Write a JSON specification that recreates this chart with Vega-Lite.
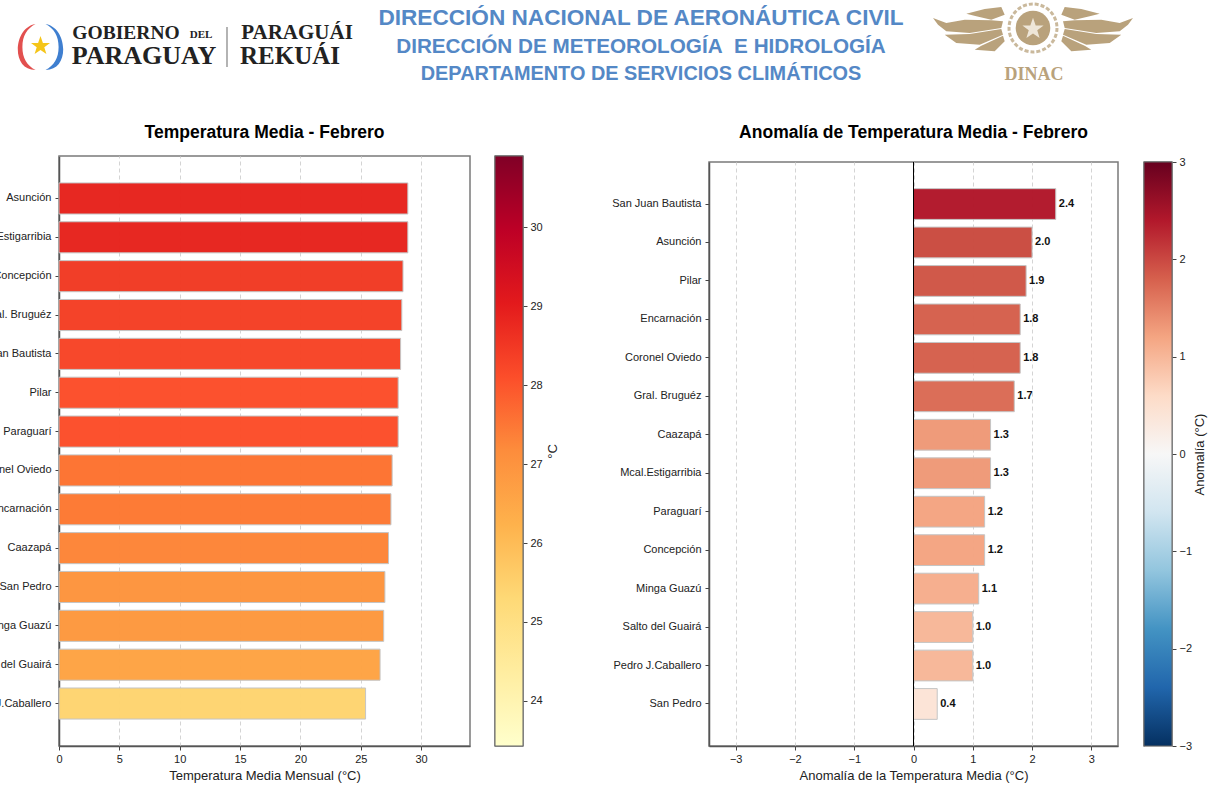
{
"$schema":"https://vega.github.io/schema/vega-lite/v6.json",
"padding":{"left":-40,"top":-2,"right":0,"bottom":0},
"background":"white",
"bounds":"flush",
"spacing":0,
"config":{"font":"Liberation Sans","view":{"stroke":"#7a7a7a","strokeWidth":1.5},
 "axis":{"labelFontSize":11,"labelColor":"#222","titleFontSize":13,"titleFontWeight":"normal","titleColor":"#222","tickColor":"#444","tickSize":4,"domainColor":"#555","domainWidth":1.5,"labelFlush":false},
 "title":{"fontSize":17.5,"fontWeight":"bold","color":"#000","anchor":"middle"}},
"datasets":{
 "media":[
  {"estacion":"Asunción","valor":28.9},{"estacion":"Mcal.Estigarribia","valor":28.9},{"estacion":"Concepción","valor":28.5},{"estacion":"Gral. Bruguéz","valor":28.4},{"estacion":"San Juan Bautista","valor":28.3},{"estacion":"Pilar","valor":28.1},{"estacion":"Paraguarí","valor":28.1},{"estacion":"Coronel Oviedo","valor":27.6},{"estacion":"Encarnación","valor":27.5},{"estacion":"Caazapá","valor":27.3},{"estacion":"San Pedro","valor":27.0},{"estacion":"Minga Guazú","valor":26.9},{"estacion":"Salto del Guairá","valor":26.6},{"estacion":"Pedro J.Caballero","valor":25.4}],
 "anomalia":[
  {"estacion":"San Juan Bautista","valor":2.4},{"estacion":"Asunción","valor":2.0},{"estacion":"Pilar","valor":1.9},{"estacion":"Encarnación","valor":1.8},{"estacion":"Coronel Oviedo","valor":1.8},{"estacion":"Gral. Bruguéz","valor":1.7},{"estacion":"Caazapá","valor":1.3},{"estacion":"Mcal.Estigarribia","valor":1.3},{"estacion":"Paraguarí","valor":1.2},{"estacion":"Concepción","valor":1.2},{"estacion":"Minga Guazú","valor":1.1},{"estacion":"Salto del Guairá","valor":1.0},{"estacion":"Pedro J.Caballero","valor":1.0},{"estacion":"San Pedro","valor":0.4}]
},
"resolve":{"scale":{"fill":"independent"}},
"vconcat":[
 {"width":1168,"height":156,"view":{"stroke":null},
  "layer":[
   {"data":{"values":[{"emblema":"laurel rojo"}]},"mark":{"type":"point","filled":true,"opacity":1,"color":"#e2504f","size":2116,"shape":"M0.37,-1 C-0.2,-0.9 -0.4,-0.3 -0.4,0.1 C-0.4,0.6 -0.15,1 0.37,1 C0,0.8 -0.2,0.5 -0.2,0 C-0.2,-0.5 0,-0.8 0.37,-1 Z"},
    "encoding":{"x":{"datum":27,"axis":null,"scale":{"domain":[59,1227],"range":[0,1168]}},"y":{"datum":47,"axis":null,"scale":{"domain":[0,156],"range":[0,156]}}}},
   {"data":{"values":[{"emblema":"laurel azul"}]},"mark":{"type":"point","filled":true,"opacity":1,"color":"#3f7fd0","size":2116,"shape":"M-0.37,-1 C0.2,-0.9 0.4,-0.3 0.4,0.1 C0.4,0.6 0.15,1 -0.37,1 C0,0.8 0.2,0.5 0.2,0 C0.2,-0.5 0,-0.8 -0.37,-1 Z"},
    "encoding":{"x":{"datum":54,"axis":null,"scale":{"domain":[59,1227],"range":[0,1168]}},"y":{"datum":47,"axis":null,"scale":{"domain":[0,156],"range":[0,156]}}}},
   {"data":{"values":[{"emblema":"estrella"}]},"mark":{"type":"point","filled":true,"opacity":1,"color":"#f5c518","size":400,"shape":"M0,-1 L0.24,-0.31 L0.95,-0.31 L0.38,0.12 L0.59,0.81 L0,0.4 L-0.59,0.81 L-0.38,0.12 L-0.95,-0.31 L-0.24,-0.31 Z"},
    "encoding":{"x":{"datum":40.5,"axis":null,"scale":{"domain":[59,1227],"range":[0,1168]}},"y":{"datum":46,"axis":null,"scale":{"domain":[0,156],"range":[0,156]}}}},
   {"data":{"values":[{"emblema":"divisor"}]},"mark":{"type":"point","filled":true,"opacity":1,"color":"#444444","size":1600,"shape":"M-0.02,-1 L0.02,-1 L0.02,1 L-0.02,1 Z"},
    "encoding":{"x":{"datum":227,"axis":null,"scale":{"domain":[59,1227],"range":[0,1168]}},"y":{"datum":47,"axis":null,"scale":{"domain":[0,156],"range":[0,156]}}}},
   {"data":{"values":[{"emblema":"alas"}]},"mark":{"type":"point","filled":true,"opacity":1,"color":"#b9a27c","size":40000,"shape":"M-0.667,-0.143 L-0.483,-0.19 L-0.317,-0.21 L-0.283,-0.133 L-0.417,-0.083 L-0.567,-0.117 Z M-1,-0.1 L-0.867,-0.05 L-0.683,-0.083 L-0.417,-0.077 L-0.3,-0.067 L-0.317,0 L-0.633,0.05 L-0.867,0.033 L-0.95,-0.033 Z M-0.883,0.067 L-0.633,0.06 L-0.317,0.01 L-0.3,0.067 L-0.533,0.167 L-0.767,0.15 Z M-0.583,0.217 L-0.517,0.177 L-0.3,0.077 L-0.283,0.133 L-0.383,0.233 Z M0.667,-0.143 L0.483,-0.19 L0.317,-0.21 L0.283,-0.133 L0.417,-0.083 L0.567,-0.117 Z M1,-0.1 L0.867,-0.05 L0.683,-0.083 L0.417,-0.077 L0.3,-0.067 L0.317,0 L0.633,0.05 L0.867,0.033 L0.95,-0.033 Z M0.883,0.067 L0.633,0.06 L0.317,0.01 L0.3,0.067 L0.533,0.167 L0.767,0.15 Z M0.583,0.217 L0.517,0.177 L0.3,0.077 L0.283,0.133 L0.383,0.233 Z"},
    "encoding":{"x":{"datum":1033,"axis":null,"scale":{"domain":[59,1227],"range":[0,1168]}},"y":{"datum":28,"axis":null,"scale":{"domain":[0,156],"range":[0,156]}}}},
   {"data":{"values":[{"emblema":"corona"}]},"mark":{"type":"point","filled":false,"opacity":0.75,"color":"#b9a27c","strokeWidth":3,"strokeDash":[4,2],"size":2300,"shape":"circle"},
    "encoding":{"x":{"datum":1033,"axis":null,"scale":{"domain":[59,1227],"range":[0,1168]}},"y":{"datum":28,"axis":null,"scale":{"domain":[0,156],"range":[0,156]}}}},
   {"data":{"values":[{"emblema":"sello"}]},"mark":{"type":"point","filled":true,"opacity":1,"color":"#b9a27c","size":1200,"shape":"circle"},
    "encoding":{"x":{"datum":1033,"axis":null,"scale":{"domain":[59,1227],"range":[0,1168]}},"y":{"datum":28,"axis":null,"scale":{"domain":[0,156],"range":[0,156]}}}},
   {"data":{"values":[{"emblema":"estrella sello"}]},"mark":{"type":"point","filled":true,"opacity":1,"color":"#eee6d8","size":500,"shape":"M0,-1 L0.24,-0.31 L0.95,-0.31 L0.38,0.12 L0.59,0.81 L0,0.4 L-0.59,0.81 L-0.38,0.12 L-0.95,-0.31 L-0.24,-0.31 Z"},
    "encoding":{"x":{"datum":1033,"axis":null,"scale":{"domain":[59,1227],"range":[0,1168]}},"y":{"datum":29,"axis":null,"scale":{"domain":[0,156],"range":[0,156]}}}},
   {"data":{"values":[{"texto":"GOBIERNO"}]},"mark":{"type":"text","font":"Liberation Serif","fontWeight":"bold","fontSize":19.5,"color":"#222222"},
    "encoding":{"text":{"field":"texto"},"x":{"datum":126,"axis":null,"scale":{"domain":[59,1227],"range":[0,1168]}},"y":{"datum":33,"axis":null,"scale":{"domain":[0,156],"range":[0,156]}}}},
   {"data":{"values":[{"texto":"DEL"}]},"mark":{"type":"text","font":"Liberation Serif","fontWeight":"bold","fontSize":11,"color":"#222222"},
    "encoding":{"text":{"field":"texto"},"x":{"datum":201,"axis":null,"scale":{"domain":[59,1227],"range":[0,1168]}},"y":{"datum":35,"axis":null,"scale":{"domain":[0,156],"range":[0,156]}}}},
   {"data":{"values":[{"texto":"PARAGUAY"}]},"mark":{"type":"text","font":"Liberation Serif","fontWeight":"bold","fontSize":26,"color":"#222222"},
    "encoding":{"text":{"field":"texto"},"x":{"datum":144,"axis":null,"scale":{"domain":[59,1227],"range":[0,1168]}},"y":{"datum":56,"axis":null,"scale":{"domain":[0,156],"range":[0,156]}}}},
   {"data":{"values":[{"texto":"PARAGUÁI"}]},"mark":{"type":"text","font":"Liberation Serif","fontWeight":"bold","fontSize":21,"color":"#222222"},
    "encoding":{"text":{"field":"texto"},"x":{"datum":297,"axis":null,"scale":{"domain":[59,1227],"range":[0,1168]}},"y":{"datum":33,"axis":null,"scale":{"domain":[0,156],"range":[0,156]}}}},
   {"data":{"values":[{"texto":"REKUÁI"}]},"mark":{"type":"text","font":"Liberation Serif","fontWeight":"bold","fontSize":25,"color":"#222222"},
    "encoding":{"text":{"field":"texto"},"x":{"datum":290,"axis":null,"scale":{"domain":[59,1227],"range":[0,1168]}},"y":{"datum":56,"axis":null,"scale":{"domain":[0,156],"range":[0,156]}}}},
   {"data":{"values":[{"texto":"DINAC"}]},"mark":{"type":"text","font":"Liberation Serif","fontWeight":"bold","fontSize":18,"color":"#b9a27c"},
    "encoding":{"text":{"field":"texto"},"x":{"datum":1034,"axis":null,"scale":{"domain":[59,1227],"range":[0,1168]}},"y":{"datum":75,"axis":null,"scale":{"domain":[0,156],"range":[0,156]}}}},
   {"data":{"values":[{"texto":"DIRECCIÓN NACIONAL DE AERONÁUTICA CIVIL"}]},"mark":{"type":"text","fontWeight":"bold","fontSize":22.6,"color":"#5488c6"},
    "encoding":{"text":{"field":"texto"},"x":{"datum":641,"axis":null,"scale":{"domain":[59,1227],"range":[0,1168]}},"y":{"datum":18,"axis":null,"scale":{"domain":[0,156],"range":[0,156]}}}},
   {"data":{"values":[{"texto":"DIRECCIÓN DE METEOROLOGÍA\u00a0 E HIDROLOGÍA"}]},"mark":{"type":"text","fontWeight":"bold","fontSize":20.7,"color":"#5488c6"},
    "encoding":{"text":{"field":"texto"},"x":{"datum":641,"axis":null,"scale":{"domain":[59,1227],"range":[0,1168]}},"y":{"datum":47,"axis":null,"scale":{"domain":[0,156],"range":[0,156]}}}},
   {"data":{"values":[{"texto":"DEPARTAMENTO DE SERVICIOS CLIMÁTICOS"}]},"mark":{"type":"text","fontWeight":"bold","fontSize":19.9,"color":"#5488c6"},
    "encoding":{"text":{"field":"texto"},"x":{"datum":641,"axis":null,"scale":{"domain":[59,1227],"range":[0,1168]}},"y":{"datum":74,"axis":null,"scale":{"domain":[0,156],"range":[0,156]}}}}
  ]
 },
 {"bounds":"flush","spacing":650,"resolve":{"scale":{"fill":"independent"}},"hconcat":[
  {"bounds":"flush","spacing":25,"hconcat":[
   {"width":411,"height":590,
    "data":{"name":"media"},
    "title":{"text":"Temperatura Media - Febrero","offset":15},
    "mark":{"type":"bar","stroke":"#c4c4c4","strokeWidth":1,"opacity":0.98},
    "encoding":{
     "y":{"field":"estacion","type":"nominal","sort":{"field":"valor","order":"descending"},"title":null,
      "scale":{"paddingInner":0.2,"paddingOuter":0.693},"axis":{"domain":true,"labelPadding":4,"labelLimit":200}},
     "x":{"field":"valor","type":"quantitative","title":"Temperatura Media Mensual (°C)",
      "scale":{"domain":[0,34.05],"nice":false,"zero":false},
      "axis":{"values":[0,5,10,15,20,25,30],"grid":true,"gridDash":[4,3],"gridColor":"#d4d4d4","gridWidth":1,"labelPadding":3,"titlePadding":5}},
     "fill":{"field":"valor","type":"quantitative","legend":null,"scale":{"domain":[23.43,30.9],"range":["#ffffcc","#ffeda0","#fed976","#feb24c","#fd8d3c","#fc4e2a","#e31a1c","#bd0026","#800026"]}}
    }},
   {"width":28,"height":590,
    "data":{"values":[{"minimo":23.43,"maximo":30.9}]},
    "mark":{"type":"rect","stroke":"#666666","strokeWidth":1,"fill":{"gradient":"linear","x1":0,"y1":1,"x2":0,"y2":0,"stops":[
      {"offset":0,"color":"#ffffcc"},{"offset":0.125,"color":"#ffeda0"},{"offset":0.25,"color":"#fed976"},{"offset":0.375,"color":"#feb24c"},{"offset":0.5,"color":"#fd8d3c"},{"offset":0.625,"color":"#fc4e2a"},{"offset":0.75,"color":"#e31a1c"},{"offset":0.875,"color":"#bd0026"},{"offset":1,"color":"#800026"}]}},
    "encoding":{
     "y":{"field":"minimo","type":"quantitative","title":"°C","scale":{"domain":[23.43,30.9],"nice":false,"zero":false},
      "axis":{"orient":"right","values":[24,25,26,27,28,29,30],"domain":false,"titleAngle":270,"titlePadding":17,"labelPadding":3}},
     "y2":{"field":"maximo"}
    }}
  ]},
  {"bounds":"flush","spacing":0,"vconcat":[
   {"width":1,"height":6,"view":{"stroke":null},"data":{"values":[{}]},"mark":{"type":"rect","opacity":0},"encoding":{}},
   {"bounds":"flush","spacing":26,"hconcat":[
    {"width":409,"height":584,
     "data":{"name":"anomalia"},
     "title":{"text":"Anomalía de Temperatura Media - Febrero","offset":20},
     "encoding":{
      "y":{"field":"estacion","type":"nominal","title":null,
       "sort":["San Juan Bautista","Asunción","Pilar","Encarnación","Coronel Oviedo","Gral. Bruguéz","Caazapá","Mcal.Estigarribia","Paraguarí","Concepción","Minga Guazú","Salto del Guairá","Pedro J.Caballero","San Pedro"],
       "scale":{"paddingInner":0.2,"paddingOuter":0.693},"axis":{"domain":true,"labelPadding":4,"labelLimit":200}},
      "x":{"field":"valor","type":"quantitative","title":"Anomalía de la Temperatura Media (°C)",
       "scale":{"domain":[-3.45,3.45],"nice":false,"zero":false},
       "axis":{"values":[-3,-2,-1,0,1,2,3],"grid":true,"gridDash":[4,3],"gridColor":"#d4d4d4","gridWidth":1,"labelPadding":3,"titlePadding":5}}
     },
     "layer":[
      {"mark":{"type":"bar","stroke":"#c4c4c4","strokeWidth":1,"opacity":0.98},
       "encoding":{"fill":{"field":"valor","type":"quantitative","legend":null,"scale":{"domain":[-3,3],"range":["#053061","#2166ac","#4393c3","#92c5de","#d1e5f0","#f7f7f7","#fddbc7","#f4a582","#d6604d","#b2182b","#67001f"]}}}},
      {"mark":{"type":"rule","color":"#000000","strokeWidth":1},"encoding":{"x":{"datum":0},"y":{}}},
      {"mark":{"type":"text","align":"left","dx":3,"fontSize":11,"fontWeight":"bold","color":"#111111"},
       "encoding":{"text":{"field":"valor","type":"quantitative","format":".1f"}}}
     ]},
    {"width":28,"height":584,
     "data":{"values":[{"minimo":-3,"maximo":3}]},
     "mark":{"type":"rect","stroke":"#666666","strokeWidth":1,"fill":{"gradient":"linear","x1":0,"y1":1,"x2":0,"y2":0,"stops":[
       {"offset":0,"color":"#053061"},{"offset":0.1,"color":"#2166ac"},{"offset":0.2,"color":"#4393c3"},{"offset":0.3,"color":"#92c5de"},{"offset":0.4,"color":"#d1e5f0"},{"offset":0.5,"color":"#f7f7f7"},{"offset":0.6,"color":"#fddbc7"},{"offset":0.7,"color":"#f4a582"},{"offset":0.8,"color":"#d6604d"},{"offset":0.9,"color":"#b2182b"},{"offset":1,"color":"#67001f"}]}},
     "encoding":{
      "y":{"field":"minimo","type":"quantitative","title":"Anomalía (°C)","scale":{"domain":[-3,3],"nice":false,"zero":false},
       "axis":{"orient":"right","values":[-3,-2,-1,0,1,2,3],"domain":false,"titleAngle":270,"titlePadding":15,"labelPadding":3}},
      "y2":{"field":"maximo"}
     }}
   ]}
  ]}
 ]}
]
}
